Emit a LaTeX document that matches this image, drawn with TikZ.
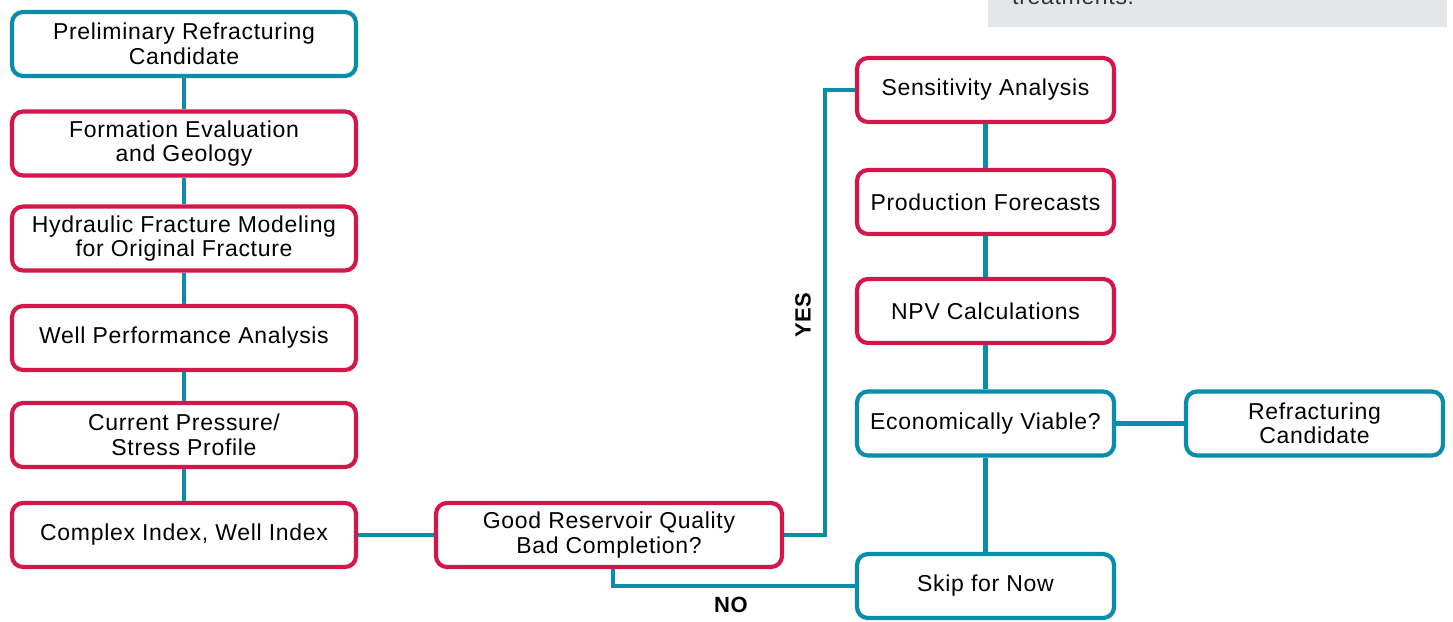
\documentclass[tikz,border=0pt]{standalone}
\usepackage{fontspec}
\setmainfont[LetterSpace=3]{Liberation Sans}
\definecolor{cred}{HTML}{D4174B}
\definecolor{cblue}{HTML}{0A8CAB}
\definecolor{cgrey}{HTML}{E5E6E7}
\tikzset{
  box/.style={draw, line width=4.2pt, rounded corners=11pt, fill=white, align=center, inner sep=0pt, font=\fontsize{23}{24.5}\selectfont},
  rbox/.style={box, draw=cred},
  bbox/.style={box, draw=cblue},
  lcol/.style={minimum width=344pt, minimum height=64pt},
  rcol/.style={minimum width=257pt, minimum height=64pt},
  conn/.style={draw=cblue, line width=4.2pt},
  lbl/.style={font=\fontsize{22}{24}\selectfont\bfseries, inner sep=0pt}
}
\begin{document}
\begin{tikzpicture}[x=1pt,y=-1pt]
\clip (0,0) rectangle (1453,621);
\useasboundingbox (0,0) rectangle (1453,621);
% grey note box (cut at top)
\fill[cgrey] (988,-5) rectangle (1447,27);
\node[anchor=base west, inner sep=0pt, font=\fontsize{23}{24}\selectfont, text=black!80] (note) at (1012,4.5) {treatments.};
% left column
\node[bbox, lcol] (n1) at (184,44) {Preliminary Refracturing\\Candidate};
\node[rbox, lcol] (n2) at (184,143.5) {Formation Evaluation\\and Geology};
\node[rbox, lcol] (n3) at (184,238.5) {Hydraulic Fracture Modeling\\for Original Fracture};
\node[rbox, lcol] (n4) at (184,338) {Well Performance Analysis};
\node[rbox, lcol] (n5) at (184,435) {Current Pressure/\\Stress Profile};
\node[rbox, lcol] (n6) at (184,535) {Complex Index, Well Index};
% middle
\node[rbox, minimum width=346pt, minimum height=64pt] (good) at (609,535) {Good Reservoir Quality\\Bad Completion?};
% right column
\node[rbox, rcol] (sens) at (985.5,90) {Sensitivity Analysis};
\node[rbox, rcol] (prod) at (985.5,202) {Production Forecasts};
\node[rbox, rcol] (npv) at (985.5,311) {NPV Calculations};
\node[bbox, rcol] (econ) at (985.5,423.5) {Economically Viable?};
\node[bbox, rcol] (skip) at (985.5,586) {Skip for Now};
\node[bbox, rcol] (refr) at (1314.5,423.5) {Refracturing\\Candidate};
% connectors
\draw[conn] (n1.south) -- (n2.north);
\draw[conn] (n2.south) -- (n3.north);
\draw[conn] (n3.south) -- (n4.north);
\draw[conn] (n4.south) -- (n5.north);
\draw[conn] (n5.south) -- (n6.north);
\draw[conn] (n6.east) -- (good.west);
\coordinate (yesx) at (825,300);
\draw[conn] (good.east) -- (good.east -| yesx) |- (sens.west);
\coordinate (nox) at (613,600);
\draw[conn] (good.south -| nox) |- (skip.west);
\draw[conn] (sens.south) -- (prod.north);
\draw[conn] (prod.south) -- (npv.north);
\draw[conn] (npv.south) -- (econ.north);
\draw[conn] (econ.south) -- (skip.north);
\draw[conn] (econ.east) -- (refr.west);
% labels
\node[lbl, rotate=90] (yes) at (803,315) {YES};
\node[lbl] (no) at (731,605) {NO};
\end{tikzpicture}
\end{document}
